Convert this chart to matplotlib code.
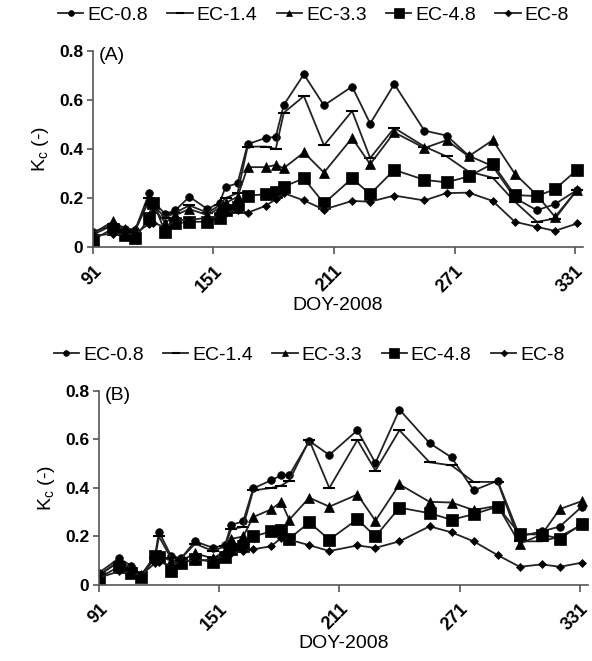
import matplotlib
matplotlib.use("Agg")
import matplotlib.pyplot as plt

plt.rcParams['font.family'] = ['Liberation Sans', 'DejaVu Sans']

doy = [91, 101, 107, 112, 119, 121, 127, 132, 139, 148, 154, 157, 163, 168, 177,
       182, 186, 196, 206, 220, 229, 241, 256, 267, 278, 290, 301, 312, 321, 332]

series_names = ['EC-0.8', 'EC-1.4', 'EC-3.3', 'EC-4.8', 'EC-8']

# panel A
a_ec08 = [0.062, 0.09, 0.075, 0.07, 0.22, 0.185, 0.135, 0.15, 0.205, 0.155, 0.18, 0.245, 0.26, 0.42, 0.445,
          0.45, 0.58, 0.705, 0.578, 0.655, 0.504, 0.665, 0.475, 0.455, 0.373, 0.33, 0.20, 0.15, 0.175, 0.233]
a_ec14 = [0.05, 0.09, 0.07, 0.065, 0.20, 0.17, 0.12, 0.14, 0.17, 0.14, 0.17, 0.20, 0.22, 0.41, 0.41,
          0.40, 0.548, 0.616, 0.415, 0.555, 0.363, 0.486, 0.41, 0.37, 0.308, 0.283, 0.185, 0.103, 0.116, 0.233]
a_ec33 = [0.055, 0.105, 0.075, 0.07, 0.19, 0.16, 0.10, 0.13, 0.155, 0.13, 0.16, 0.18, 0.205, 0.326, 0.326,
          0.335, 0.322, 0.386, 0.304, 0.445, 0.338, 0.468, 0.404, 0.436, 0.37, 0.436, 0.299, 0.212, 0.123, 0.233]
a_ec48 = [0.03, 0.075, 0.048, 0.035, 0.12, 0.18, 0.062, 0.096, 0.103, 0.103, 0.12, 0.15, 0.165, 0.21, 0.215,
          0.226, 0.247, 0.28, 0.178, 0.28, 0.216, 0.315, 0.274, 0.264, 0.288, 0.34, 0.212, 0.208, 0.236, 0.315]
a_ec8 = [0.045, 0.055, 0.05, 0.055, 0.095, 0.10, 0.08, 0.11, 0.11, 0.12, 0.125, 0.14, 0.15, 0.14, 0.168,
         0.195, 0.22, 0.19, 0.153, 0.188, 0.185, 0.21, 0.19, 0.22, 0.222, 0.188, 0.103, 0.082, 0.066, 0.096]

# panel B
b_ec08 = [0.05, 0.11, 0.08, 0.04, 0.12, 0.22, 0.12, 0.11, 0.18, 0.153, 0.165, 0.248, 0.262, 0.398, 0.432,
          0.452, 0.452, 0.594, 0.536, 0.638, 0.503, 0.723, 0.585, 0.526, 0.39, 0.43, 0.20, 0.221, 0.241, 0.323]
b_ec14 = [0.04, 0.095, 0.07, 0.04, 0.11, 0.20, 0.11, 0.11, 0.17, 0.14, 0.16, 0.23, 0.24, 0.39, 0.40,
          0.41, 0.43, 0.597, 0.40, 0.598, 0.472, 0.638, 0.506, 0.493, 0.425, 0.425, 0.18, 0.18, 0.20, 0.248]
b_ec33 = [0.04, 0.10, 0.07, 0.04, 0.11, 0.12, 0.10, 0.10, 0.13, 0.11, 0.14, 0.19, 0.20, 0.28, 0.312,
          0.343, 0.269, 0.36, 0.323, 0.373, 0.265, 0.415, 0.343, 0.34, 0.309, 0.327, 0.17, 0.208, 0.313, 0.346]
b_ec48 = [0.03, 0.075, 0.048, 0.034, 0.12, 0.115, 0.058, 0.092, 0.106, 0.096, 0.117, 0.15, 0.16, 0.20, 0.221,
          0.228, 0.191, 0.258, 0.187, 0.271, 0.20, 0.319, 0.296, 0.269, 0.292, 0.323, 0.21, 0.208, 0.191, 0.251]
b_ec8 = [0.03, 0.056, 0.05, 0.04, 0.09, 0.095, 0.08, 0.10, 0.10, 0.105, 0.12, 0.13, 0.14, 0.147, 0.16,
         0.194, 0.187, 0.164, 0.14, 0.163, 0.153, 0.18, 0.242, 0.217, 0.18, 0.123, 0.075, 0.085, 0.075, 0.092]

xticks = [91, 151, 211, 271, 331]
yticks = [0, 0.2, 0.4, 0.6, 0.8]
ytick_labels = ['0', '0.2', '0.4', '0.6', '0.8']

markers = [('o', 5.5), ('_', 8), ('^', 6.5), ('s', 9), ('D', 4.5)]
line_col = '#222222'

fig = plt.figure(figsize=(5.92, 6.61), dpi=100)
ax_a = fig.add_axes([0.157, 0.6263, 0.828, 0.2965])
ax_b = fig.add_axes([0.167, 0.115, 0.826, 0.2935])


def draw_panel(ax, data, tag, legx):
    for name, vals, (m, ms) in zip(series_names, data, markers):
        ax.plot(doy, vals, color=line_col, lw=1.3, marker=m, ms=ms,
                mec='black', mfc='black', mew=1.5 if m == '_' else 0.5, label=name)
    ax.set_xlim(91, 335)
    ax.set_ylim(0, 0.8)
    ax.spines['top'].set_visible(False)
    ax.spines['right'].set_visible(False)
    for s in ('left', 'bottom'):
        ax.spines[s].set_color('#555555')
        ax.spines[s].set_linewidth(1.2)
    ax.set_xticks(xticks)
    ax.set_xticklabels([str(t) for t in xticks], rotation=45, ha='right',
                       rotation_mode='anchor', fontweight='bold', fontsize=13)
    ax.set_yticks(yticks)
    ax.set_yticklabels(ytick_labels, fontweight='bold', fontsize=12.5)
    ax.tick_params(axis='x', direction='out', length=5, width=1.2, color='#555555', pad=6)
    ax.tick_params(axis='y', direction='out', length=4, width=1.2, color='#555555', pad=3)
    ax.set_xlabel('DOY-2008', fontsize=14, labelpad=1)
    ax.set_ylabel(r'K$_\mathregular{c}$ (-)', fontsize=14, labelpad=6)
    ax.text(0.012, 1.02, tag, transform=ax.transAxes, fontsize=14, va='top', ha='left')
    ax.legend(loc='lower center', bbox_to_anchor=(legx, 1.1), ncol=5, frameon=False,
              fontsize=14, handlelength=1.3, handletextpad=0.2, columnspacing=1.0,
              markerscale=0.75, borderaxespad=0)


draw_panel(ax_a, [a_ec08, a_ec14, a_ec33, a_ec48, a_ec8], '(A)', 0.45)
draw_panel(ax_b, [b_ec08, b_ec14, b_ec33, b_ec48, b_ec8], '(B)', 0.43)

fig.savefig('out.png', dpi=100)
